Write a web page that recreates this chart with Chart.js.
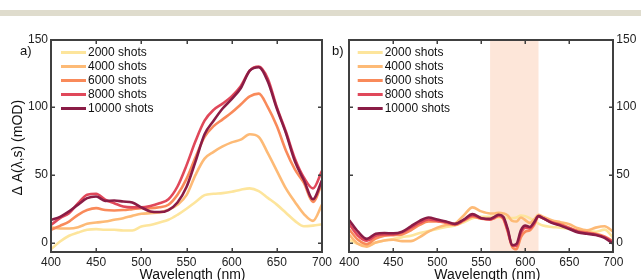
<!DOCTYPE html>
<html>
<head>
<meta charset="utf-8">
<script src="https://cdn.jsdelivr.net/npm/chart.js@4/dist/chart.umd.min.js"></script>
<style>
  html, body { margin: 0; padding: 0; background: #fff; }
  body { width: 641px; height: 280px; position: relative; overflow: hidden; }
  #band { position: absolute; left: 0; top: 10px; width: 641px; height: 6px; background: #dfdccd; }
  .box { position: absolute; top: 0; height: 280px; }
</style>
</head>
<body>
<div id="band"></div>
<div class="box" style="left:0;width:336px;"><canvas id="chartA"></canvas></div>
<div class="box" style="left:326px;width:315px;"><canvas id="chartB"></canvas></div>
<script>
// ---------------- data ----------------
const seriesLabels = ['2000 shots', '4000 shots', '6000 shots', '8000 shots', '10000 shots'];
const seriesColors = ['#fde59c', '#fdba76', '#f98a5a', '#e0485a', '#8a1c46'];
const xTicks = [400, 450, 500, 550, 600, 650, 700];
const yTicks = [0, 50, 100, 150];
const shadeRange = [560, 615];

// panel a)
const wavelengthsA = [400,410,420,430,440,450,460,470,480,490,500,510,520,530,540,550,560,570,580,590,600,610,620,630,640,650,660,670,680,690,700];
const a2000  = [-5,0.7,5,7.4,9.4,9.9,9.4,9.4,8.9,8.9,11.8,13,14.8,16.8,20.5,25,30,35,36,36.5,37.5,39,40,38,33,28,22,16,12,12.5,13.5];
const a4000  = [11.3,10.4,10.4,11.3,13.8,14.8,15.5,16.8,18,19.7,21.2,21.7,22.2,24.2,27.9,35,50,62,67,71,74,76,80,78,66,53,40,30,21,16,28];
const a6000  = [9.4,12.3,15.5,20.5,24,25.4,24,23.7,24,24.7,25.4,25.4,26,27.9,35.3,47,63,78,86,91,96,102,108,110,100,86,68,54,44,30,44];
const a8000  = [13,18,21.7,29,35.3,36,31.6,29,26.6,26,26,27,29,32,41.4,57,75,90,98,102.6,108,115.5,127,130,121,100,82,62,48,40,53];
const a10000 = [16.8,19,23,28,32.8,34,30.8,31,30.3,29.6,26,23,22.5,24,29.6,41,60,80,90,99,106,114,127,129.5,119,99,81,60,46,32,46];

// panel b)
const wavelengthsB = [400,410,420,430,440,450,460,470,480,490,500,510,520,530,540,550,560,565,570,575,580,585,590,595,600,605,610,615,620,630,640,650,660,670,680,690,700];
const b2000  = [2,-1,-2,0,1.5,2.5,4,5,7,8.5,10,11.5,12.5,15,18,19,19,19,18.5,18.5,18,18,18.5,20,19.5,18,16,14,12.5,11.5,11,10,9,8.5,8,9.5,3.5];
const b4000  = [5.7,-1,-3,0,1.5,2,1,1,4,8,11,13,14,20,26,23,21.5,21.5,22,21.5,20,16,15.5,18.5,16.5,14.5,17,20.5,19,16.5,15,13.5,10.5,9,11,12,8];
const b6000  = [9.5,2,-1.2,3,5,5.5,6,9,13,15.5,15.5,14.5,13,16,19,17.5,17,18,19.5,17.5,8,-3,-5,4,8,9,13,19,18,15,13.5,11,8.5,7.5,6.5,4.5,1];
const b8000  = [13.5,5,1.3,5,6,6,7.5,11,14.5,17,16,15,13.5,16.5,20,18,17,18.5,20,18,9,-2,-2.5,7,11,10.5,14,19.5,18,15,13,10.5,8,7,6,4,0];
const b10000 = [16.5,8,2.7,6.5,7,6.8,8,12,16,18.5,17,15.5,13.8,17,21,18,17.5,19,20.5,19,10,-2,-1,9,12.5,11.5,15,19.5,18,14.5,12.5,10,7.5,6.5,5.5,3.5,-1];

// ---------------- rendering ----------------
const FONT = "'Liberation Sans', Arial, Helvetica, sans-serif";
Chart.defaults.font.family = FONT;
Chart.defaults.color = '#222';

function buildDatasets(wl, seriesList) {
  return seriesList.map((vals, i) => ({
    label: seriesLabels[i],
    data: wl.map((x, j) => ({ x: x, y: vals[j] })),
    borderColor: seriesColors[i],
    backgroundColor: seriesColors[i],
    borderWidth: 2.6,
    pointRadius: 0,
    cubicInterpolationMode: 'monotone',
    order: seriesList.length - i
  }));
}

function decorPlugin(cfg) {
  return {
    id: 'decor_' + cfg.id,
    beforeDatasetsDraw(chart) {
      if (!cfg.shade) return;
      const { ctx, chartArea: ca, scales } = chart;
      const x0 = scales.x.getPixelForValue(shadeRange[0]);
      const x1 = scales.x.getPixelForValue(shadeRange[1]);
      ctx.save();
      ctx.fillStyle = '#fde6d9';
      ctx.fillRect(x0, ca.top, x1 - x0, ca.bottom - ca.top);
      ctx.restore();
    },
    afterDraw(chart) {
      const { ctx, chartArea: ca, scales } = chart;
      ctx.save();
      // frame (filled bars so every side is solid)
      const L = Math.round(ca.left), R = Math.round(ca.right);
      const T = Math.round(ca.top), B = Math.round(ca.bottom);
      const w = 2;
      ctx.fillStyle = '#404040';
      ctx.fillRect(L - 1, T - 1, R - L + 2, w);      // top
      ctx.fillRect(L - 1, B - 1, R - L + 2, w);      // bottom
      ctx.fillRect(L - 1, T - 1, w, B - T + 2);      // left
      ctx.fillRect(R - 1, T - 1, w, B - T + 2);      // right
      // inward ticks
      const tl = 4;
      xTicks.forEach(v => {
        if (v === 400 || v === 700) return;
        const px = Math.round(scales.x.getPixelForValue(v));
        ctx.fillRect(px - 0.5, B - tl, 1.5, tl);
        ctx.fillRect(px - 0.5, T, 1.5, tl);
      });
      yTicks.forEach(v => {
        if (v === 150) return;
        const py = Math.round(scales.y.getPixelForValue(v));
        ctx.fillRect(L, py - 0.5, tl, 1.5);
        ctx.fillRect(R - tl, py - 0.5, tl, 1.5);
      });

      // panel label
      ctx.fillStyle = '#111';
      ctx.font = '13px ' + FONT;
      ctx.textBaseline = 'middle';
      ctx.textAlign = 'left';
      ctx.fillText(cfg.panel, cfg.panelX, 51);

      // legend
      ctx.font = '12px ' + FONT;
      chart.data.datasets.forEach((ds, i) => {
        const y = 52.5 + i * 14;
        ctx.strokeStyle = ds.borderColor;
        ctx.lineWidth = 3;
        ctx.beginPath();
        ctx.moveTo(cfg.legX, y); ctx.lineTo(cfg.legX + 25, y);
        ctx.stroke();
        ctx.fillStyle = '#111';
        ctx.fillText(ds.label, cfg.legX + 27, y + 0.5);
      });

      // axis titles
      ctx.font = '14px ' + FONT;
      ctx.fillStyle = '#111';
      ctx.textAlign = 'center';
      ctx.fillText('Wavelength (nm)', (ca.left + ca.right) / 2 + 6, 275);
      if (cfg.yTitle) {
        ctx.translate(18, (ca.top + ca.bottom) / 2 + 2);
        ctx.rotate(-Math.PI / 2);
        ctx.fillText('\u0394 A(\u03bb,s) (mOD)', 0, 0);
      }
      ctx.restore();
    }
  };
}

function makeChart(canvasId, wl, seriesList, cfg) {
  return new Chart(document.getElementById(canvasId), {
    type: 'line',
    data: { datasets: buildDatasets(wl, seriesList) },
    options: {
      responsive: true,
      maintainAspectRatio: false,
      animation: false,
      layout: { padding: cfg.padding },
      plugins: { legend: { display: false }, tooltip: { enabled: false } },
      scales: {
        x: {
          type: 'linear', min: 400, max: 700,
          afterBuildTicks: s => { s.ticks = xTicks.map(v => ({ value: v })); },
          afterFit: s => { s.height = 28; },
          grid: { display: false, drawTicks: false },
          border: { display: false },
          ticks: { font: { size: 12 }, color: '#222', padding: 3, maxRotation: 0, autoSkip: false }
        },
        y: {
          type: 'linear', min: -7, max: 150, position: cfg.yPos,
          afterBuildTicks: s => { s.ticks = yTicks.map(v => ({ value: v })); },
          afterFit: s => { s.width = cfg.yWidth; },
          grid: { display: false, drawTicks: false },
          border: { display: false },
          ticks: { font: { size: 12 }, color: '#222', padding: 3 }
        }
      }
    },
    plugins: [decorPlugin(cfg)]
  });
}

makeChart('chartA', wavelengthsA, [a2000, a4000, a6000, a8000, a10000], {
  id: 'a', panel: 'a)', panelX: 20, legX: 61, yTitle: true, shade: false,
  yPos: 'left', yWidth: 51, padding: { top: 39.5, right: 14, left: 0, bottom: 0 }
});
makeChart('chartB', wavelengthsB, [b2000, b4000, b6000, b8000, b10000], {
  id: 'b', panel: 'b)', panelX: 6, legX: 31.7, yTitle: false, shade: true,
  yPos: 'right', yWidth: 27.7, padding: { top: 39.5, right: 0, left: 23.3, bottom: 0 }
});
</script>
</body>
</html>
